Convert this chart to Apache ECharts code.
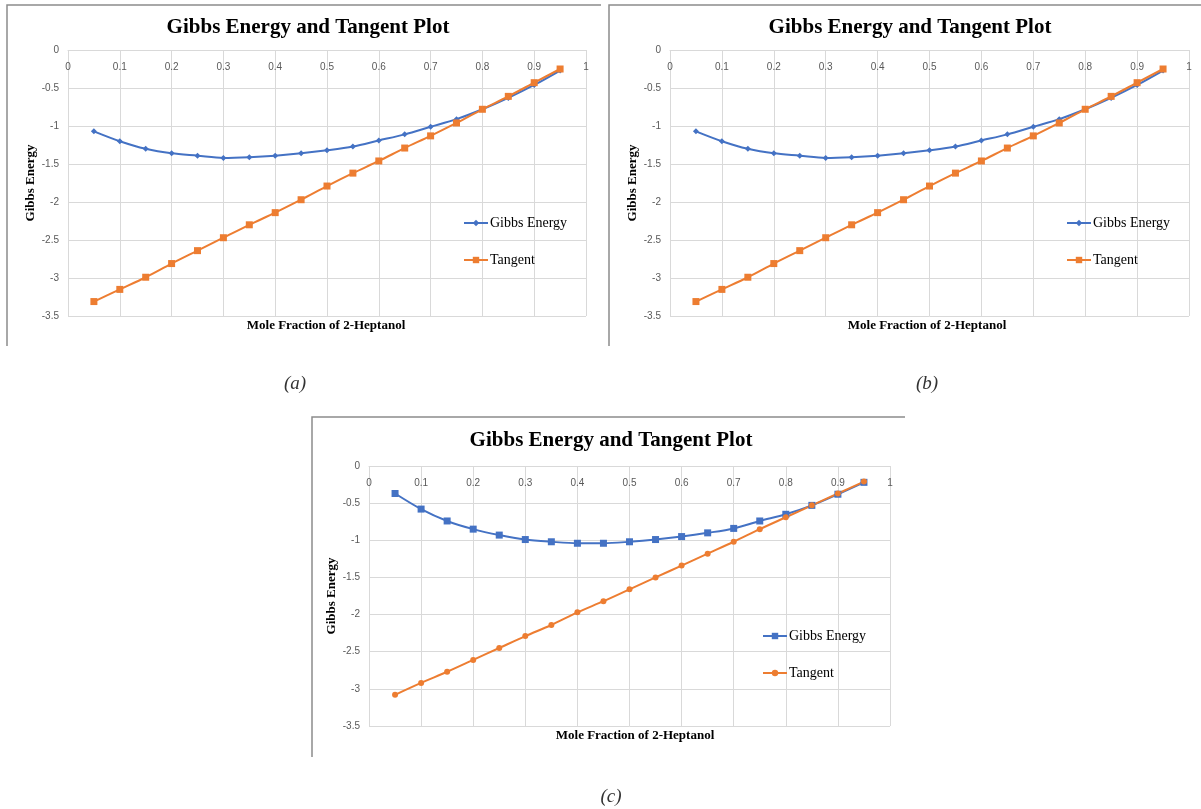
<!DOCTYPE html>
<html>
<head>
<meta charset="utf-8">
<script src="https://cdn.jsdelivr.net/npm/echarts@6/dist/echarts.min.js"></script>
<style>
html,body{margin:0;padding:0;background:#fff;}
#chart{width:1201px;height:809px;}
</style>
</head>
<body>
<div id="chart"></div>
<script>
// ---- data ----
const moleFraction = [0.05,0.10,0.15,0.20,0.25,0.30,0.35,0.40,0.45,0.50,0.55,0.60,0.65,0.70,0.75,0.80,0.85,0.90,0.95];
const gibbsAB = [-1.07,-1.20,-1.30,-1.36,-1.39,-1.42,-1.41,-1.39,-1.36,-1.32,-1.27,-1.19,-1.11,-1.01,-0.91,-0.78,-0.63,-0.46,-0.27];
const tangentAB = [-3.31,-3.15,-2.99,-2.81,-2.64,-2.47,-2.30,-2.14,-1.97,-1.79,-1.62,-1.46,-1.29,-1.13,-0.96,-0.78,-0.61,-0.43,-0.25];
const gibbsC = [-0.37,-0.58,-0.74,-0.85,-0.93,-0.99,-1.02,-1.04,-1.04,-1.02,-0.99,-0.95,-0.90,-0.84,-0.74,-0.65,-0.53,-0.38,-0.22];
const tangentC = [-3.08,-2.92,-2.77,-2.61,-2.45,-2.29,-2.14,-1.97,-1.82,-1.66,-1.50,-1.34,-1.18,-1.02,-0.85,-0.69,-0.53,-0.37,-0.21];
const chartTitle = 'Gibbs Energy and Tangent Plot';
const xAxisTitle = 'Mole Fraction of 2-Heptanol';
const yAxisTitle = 'Gibbs Energy';
const seriesNames = ['Gibbs Energy', 'Tangent'];
const captions = ['(a)', '(b)', '(c)'];

const BLUE = '#4472C4', ORANGE = '#ED7D31';
const SERIF = '"Liberation Serif", "Times New Roman", serif';
const SANS = '"Liberation Sans", Arial, sans-serif';

function pairs(ys){ return moleFraction.map((x,i)=>[x, ys[i]]); }

const panels = [
  {grid:{left:68, top:50, width:518, height:266}, titleX:303, titleY:12, xNameX:321, xNameY:314, capX:290, capY:369,
   legend:{left:458, top:211}, frame:[7,5,601,346], gibbs:gibbsAB, tangent:tangentAB, gSym:'diamond', gSize:6, tSym:'rect', tSize:7, tag:' (a)'},
  {grid:{left:670, top:50, width:519, height:266}, titleX:905, titleY:12, xNameX:922, xNameY:314, capX:922, capY:369,
   legend:{left:1061, top:211}, frame:[609,5,1201,346], gibbs:gibbsAB, tangent:tangentAB, gSym:'diamond', gSize:6, tSym:'rect', tSize:7, tag:' (b)'},
  {grid:{left:369, top:466, width:521, height:260}, titleX:606, titleY:425, xNameX:630, xNameY:724, capX:606, capY:782,
   legend:{left:757, top:624}, frame:[312,417,905,757], gibbs:gibbsC, tangent:tangentC, gSym:'rect', gSize:7, tSym:'circle', tSize:6, tag:' (c)'}
];

const option = {
  backgroundColor:'#fff',
  animation:false,
  title:[], grid:[], xAxis:[], yAxis:[], series:[], legend:[], graphic:[]
};

panels.forEach((p, i) => {
  option.grid.push(Object.assign({containLabel:false}, p.grid));
  option.title.push({text:chartTitle, left:p.titleX, top:p.titleY, textAlign:'center',
    textStyle:{fontFamily:SERIF, fontWeight:'bold', fontSize:21, color:'#000'}});
  option.title.push({text:xAxisTitle, left:p.xNameX, top:p.xNameY, textAlign:'center',
    textStyle:{fontFamily:SERIF, fontWeight:'bold', fontSize:13, color:'#000'}});
  option.title.push({text:captions[i], left:p.capX, top:p.capY, textAlign:'center',
    textStyle:{fontFamily:SERIF, fontStyle:'italic', fontWeight:'normal', fontSize:19, color:'#333'}});
  option.xAxis.push({
    type:'value', gridIndex:i, position:'top', min:0, max:1, interval:0.1,
    axisLine:{show:true, onZero:false, lineStyle:{color:'#d9d9d9', width:1}},
    axisTick:{show:false},
    axisLabel:{inside:true, margin:12, fontSize:10, fontFamily:SANS, color:'#595959',
      formatter:v => String(+v.toFixed(1))},
    splitLine:{show:true, lineStyle:{color:'#d9d9d9', width:1}}
  });
  option.yAxis.push({
    type:'value', gridIndex:i, min:-3.5, max:0, interval:0.5,
    name:yAxisTitle, nameLocation:'middle', nameGap:31, nameRotate:90,
    nameTextStyle:{fontFamily:SERIF, fontWeight:'bold', fontSize:13, color:'#000'},
    axisLine:{show:false}, axisTick:{show:false},
    axisLabel:{margin:9, fontSize:10, fontFamily:SANS, color:'#595959',
      formatter:v => String(+v.toFixed(1))},
    splitLine:{show:true, lineStyle:{color:'#d9d9d9', width:1}}
  });
  const gName = seriesNames[0] + p.tag, tName = seriesNames[1] + p.tag;
  option.series.push({
    name:gName, type:'line', xAxisIndex:i, yAxisIndex:i, data:pairs(p.gibbs),
    smooth:0.3, symbol:p.gSym, symbolSize:p.gSize, showAllSymbol:true,
    lineStyle:{color:BLUE, width:2}, itemStyle:{color:BLUE}
  });
  option.series.push({
    name:tName, type:'line', xAxisIndex:i, yAxisIndex:i, data:pairs(p.tangent),
    smooth:0.3, symbol:p.tSym, symbolSize:p.tSize, showAllSymbol:true,
    lineStyle:{color:ORANGE, width:2}, itemStyle:{color:ORANGE}
  });
  option.legend.push({
    data:[gName, tName], orient:'vertical', left:p.legend.left, top:p.legend.top,
    itemWidth:24, itemHeight:8, itemGap:23, selectedMode:false,
    formatter:n => n.replace(p.tag, ''),
    textStyle:{fontFamily:SERIF, fontSize:14, color:'#000', padding:[0,0,0,-3]}
  });
  const f = p.frame;
  option.graphic.push({type:'polyline', silent:true,
    shape:{points:[[f[0], f[3]], [f[0], f[1]], [f[2], f[1]]]},
    style:{stroke:'#8c8c8c', lineWidth:1.5, fill:null}});
});

const chart = echarts.init(document.getElementById('chart'), null, {renderer:'canvas'});
chart.setOption(option);
</script>
</body>
</html>
